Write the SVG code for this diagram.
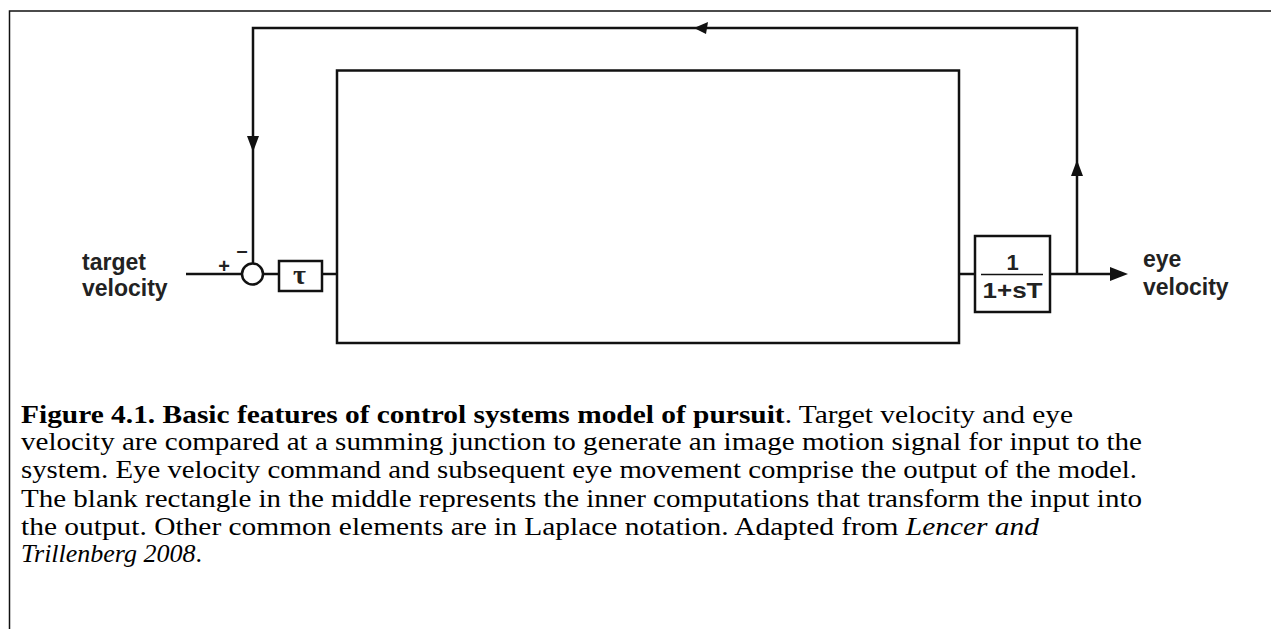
<svg xmlns="http://www.w3.org/2000/svg" width="1271" height="629" viewBox="0 0 1271 629">
<defs>
<style>
.ln{fill:none;stroke:#111;stroke-width:2.5}
.fr{fill:none;stroke:#111;stroke-width:1.5}
.bx{fill:#fff;stroke:#111;stroke-width:2.5}
.lab{font-family:"Liberation Sans",Arial,sans-serif;font-weight:bold;font-size:23px;fill:#222}
.cap{font-family:"Liberation Serif","Times New Roman",serif;font-size:26px;fill:#000}
</style>
</defs>
<rect width="1271" height="629" fill="#fff"/>
<path class="fr" d="M9.5,629 V11 H1271"/>
<g id="connectors">
<path class="ln" d="M186,274 H242"/>
<path class="ln" d="M263,274 H279"/>
<path class="ln" d="M322,274 H337"/>
<path class="ln" d="M959,274 H975"/>
<path class="ln" d="M1050,274 H1112"/>
<path d="M1110,267 L1128,274 L1110,281 z" fill="#111"/>
<path class="ln" d="M1077,274 V28 H253 V263"/>
<path d="M694,28 L708,22 L706,34 z" fill="#111"/>
<path d="M247,136 L259,136 L253,152 z" fill="#111"/>
<path d="M1071,176 L1083,176 L1077,160 z" fill="#111"/>
</g>
<g id="sum">
<circle class="bx" cx="252.5" cy="274" r="10.5"/>
<text class="lab" x="224" y="273" text-anchor="middle" style="font-size:20px">+</text>
<text class="lab" x="242" y="257" text-anchor="middle" style="font-size:20px">–</text>
</g>
<g id="delay">
<rect class="bx" x="279" y="261" width="43" height="30"/>
<text x="299.5" y="284" text-anchor="middle" style="font-family:'Liberation Serif',serif;font-weight:bold;font-size:28px;fill:#222">τ</text>
</g>
<g id="system">
<rect class="bx" x="337" y="70.5" width="622" height="272.5"/>
</g>
<g id="plant">
<rect class="bx" x="975" y="236" width="75" height="76"/>
<text class="lab" x="1012.5" y="270" text-anchor="middle" style="font-size:22px">1</text>
<line x1="981" y1="274.5" x2="1043" y2="274.5" stroke="#111" stroke-width="1.5"/>
<text class="lab" x="1012.5" y="298" text-anchor="middle" textLength="60" lengthAdjust="spacingAndGlyphs" style="font-size:22px">1+sT</text>
</g>
<g id="labels">
<text class="lab" x="82" y="270">target</text>
<text class="lab" x="82" y="296">velocity</text>
<text class="lab" x="1143" y="267">eye</text>
<text class="lab" x="1143" y="295">velocity</text>
</g>
<g id="caption">
<text class="cap" x="21" y="423" textLength="1052" lengthAdjust="spacingAndGlyphs"><tspan font-weight="bold">Figure 4.1. Basic features of control systems model of pursuit</tspan>. Target velocity and eye</text>
<text class="cap" x="21" y="450" textLength="1121" lengthAdjust="spacingAndGlyphs">velocity are compared at a summing junction to generate an image motion signal for input to the</text>
<text class="cap" x="21" y="478" textLength="1116" lengthAdjust="spacingAndGlyphs">system. Eye velocity command and subsequent eye movement comprise the output of the model.</text>
<text class="cap" x="21" y="507" textLength="1121" lengthAdjust="spacingAndGlyphs">The blank rectangle in the middle represents the inner computations that transform the input into</text>
<text class="cap" x="21" y="535" textLength="1018" lengthAdjust="spacingAndGlyphs">the output. Other common elements are in Laplace notation. Adapted from <tspan font-style="italic">Lencer and</tspan></text>
<text class="cap" x="21" y="562" textLength="181" lengthAdjust="spacingAndGlyphs"><tspan font-style="italic">Trillenberg 2008</tspan>.</text>
</g>
</svg>
